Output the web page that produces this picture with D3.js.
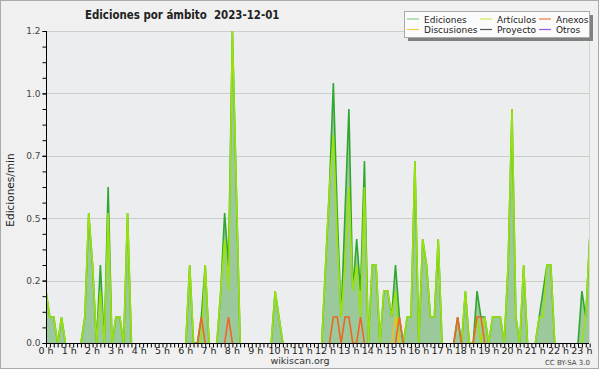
<!DOCTYPE html>
<html>
<head>
<meta charset="utf-8">
<script src="https://cdn.jsdelivr.net/npm/d3@7"></script>
<style>
  body { margin: 0; background: #fff; }
  text { font-family: "DejaVu Sans", sans-serif; }
</style>
</head>
<body>
<div id="chart"></div>
<script>
var svgWidth = 600;
var svgHeight = 370;

// 10-minute bins, 00:00 .. 23:20 (edits per minute)
var ediciones = [
  0.2, 0.1, 0.1, 0, 0.1, 0,
  0, 0, 0, 0, 0.1, 0.5,
  0.3, 0, 0.3, 0, 0.6, 0,
  0.1, 0.1, 0, 0.5, 0, 0,
  0, 0, 0, 0, 0, 0,
  0, 0, 0, 0, 0, 0,
  0, 0.3, 0, 0, 0.1, 0.3,
  0, 0, 0, 0.2, 0.5, 0.3,
  1.2, 0.6, 0, 0, 0, 0,
  0, 0, 0, 0, 0, 0.2,
  0.1, 0, 0, 0, 0, 0,
  0, 0, 0, 0, 0, 0,
  0.3, 0.6, 1.0, 0.5, 0.1, 0.5,
  0.9, 0.2, 0.4, 0.2, 0.7, 0,
  0.3, 0.3, 0, 0.2, 0.2, 0.1,
  0.3, 0.1, 0, 0.1, 0.1, 0.7,
  0, 0.4, 0.3, 0.1, 0.1, 0.4,
  0, 0, 0, 0, 0.1, 0,
  0.2, 0, 0, 0.2, 0.1, 0.1,
  0, 0.1, 0.1, 0.1, 0, 0.3,
  0.9, 0.1, 0, 0.3, 0, 0,
  0, 0.1, 0.2, 0.3, 0.3, 0,
  0, 0, 0, 0, 0, 0,
  0.2, 0.1, 0.4
];

var articulos = [
  0.2, 0.1, 0.1, 0, 0.1, 0,
  0, 0, 0, 0, 0.1, 0.5,
  0.3, 0, 0.2, 0, 0.5, 0,
  0.1, 0.1, 0, 0.5, 0, 0,
  0, 0, 0, 0, 0, 0,
  0, 0, 0, 0, 0, 0,
  0, 0.3, 0, 0, 0, 0.3,
  0, 0, 0, 0.2, 0.4, 0.2,
  1.2, 0.6, 0, 0, 0, 0,
  0, 0, 0, 0, 0, 0.2,
  0.1, 0, 0, 0, 0, 0,
  0, 0, 0, 0, 0, 0,
  0.3, 0.6, 0.8, 0.4, 0.1, 0.3,
  0.6, 0.2, 0.3, 0.1, 0.6, 0,
  0.3, 0.3, 0, 0.2, 0.2, 0.1,
  0.2, 0, 0, 0.1, 0.1, 0.7,
  0, 0.4, 0.3, 0.1, 0.1, 0.4,
  0, 0, 0, 0, 0, 0,
  0.2, 0, 0, 0.1, 0, 0.1,
  0, 0.1, 0.1, 0.1, 0, 0.3,
  0.9, 0.1, 0, 0.3, 0, 0,
  0, 0.1, 0.1, 0.3, 0.3, 0,
  0, 0, 0, 0, 0, 0,
  0, 0.1, 0.4
];

// sparse series: bin index -> value
var anexos = {40: 0.1, 47: 0.1, 74: 0.1, 75: 0.1, 77: 0.1, 78: 0.1, 81: 0.1, 91: 0.1, 106: 0.1, 111: 0.1, 112: 0.1};
var discusiones = {90: 0.1};
var proyecto = {};
var otros = {};

var yTicks = [0, 0.24, 0.48, 0.72, 0.96, 1.2];
var hourLabels = d3.range(0, 24).map(h => h + " h");

var legendItems = [
  {name: "Ediciones", color: "#8ccf8c"},
  {name: "Artículos", color: "#ccee55"},
  {name: "Anexos", color: "#ee7744"},
  {name: "Discusiones", color: "#f2cc44"},
  {name: "Proyecto", color: "#555555"},
  {name: "Otros", color: "#9955ee"}
];

var plot = {left: 46, right: 589, top: 31, bottom: 343};

function toSeries(obj) {
  return ediciones.map((d, i) => obj[i] || 0);
}

var svg = d3.select("#chart")
  .append("svg")
  .attr("width", svgWidth)
  .attr("height", svgHeight);

svg.append("rect")
  .attr("x", 0.5).attr("y", 0.5)
  .attr("width", 598).attr("height", 368)
  .attr("fill", "#f0f0f0")
  .attr("stroke", "#aaaaaa");

svg.append("rect")
  .attr("x", plot.left).attr("y", plot.top)
  .attr("width", plot.right - plot.left).attr("height", plot.bottom - plot.top)
  .attr("fill", "#ecedef");

// scales: minutes since midnight -> x
var xScale = d3.scaleLinear()
  .domain([0, 1440])
  .range([plot.left, plot.left + 1440 * 0.38833]);

var yScale = d3.scaleLinear()
  .domain([0, 1.2])
  .range([plot.bottom, plot.top]);

// gridlines
svg.append("g")
  .selectAll("line")
  .data(yTicks.slice(1))
  .join("line")
  .attr("x1", plot.left).attr("x2", plot.right)
  .attr("y1", d => Math.round(yScale(d)) + 0.5)
  .attr("y2", d => Math.round(yScale(d)) + 0.5)
  .attr("stroke", "#cccccc");

svg.append("line")
  .attr("x1", plot.right + 0.5).attr("x2", plot.right + 0.5)
  .attr("y1", plot.top).attr("y2", plot.bottom)
  .attr("stroke", "#d4d4d4");

svg.append("clipPath").attr("id", "clip")
  .append("rect")
  .attr("x", plot.left).attr("y", plot.top - 2)
  .attr("width", plot.right - plot.left).attr("height", plot.bottom - plot.top + 2);

var g = svg.append("g").attr("clip-path", "url(#clip)");

var area = d3.area()
  .x((d, i) => xScale(i * 10))
  .y0(yScale(0))
  .y1(d => yScale(d));

// only draw around non-zero stretches so flat zero runs stay hidden
var line = d3.line()
  .defined((d, i, arr) => d > 0 || arr[i - 1] > 0 || arr[i + 1] > 0)
  .x((d, i) => xScale(i * 10))
  .y(d => yScale(d));

g.append("path")
  .datum(ediciones)
  .attr("d", area)
  .attr("fill", "#9cc99c");

var lines = [
  {values: toSeries(otros), color: "#9955ee"},
  {values: toSeries(proyecto), color: "#555555"},
  {values: ediciones, color: "#30a830"},
  {values: articulos, color: "#9be20a"},
  {values: toSeries(discusiones), color: "#f0c020"},
  {values: toSeries(anexos), color: "#ee6622"}
];

lines.forEach(function(s) {
  g.append("path")
    .datum(s.values)
    .attr("d", line)
    .attr("fill", "none")
    .attr("stroke", s.color)
    .attr("stroke-width", 1.6);
});

// Y axis
var leftAxis = d3.axisLeft(yScale)
  .tickValues(yTicks)
  .tickFormat(d3.format(".1f"))
  .tickSize(4)
  .tickPadding(2);

var yAxisG = svg.append("g")
  .attr("transform", `translate(${plot.left + 0.5}, 0)`)
  .call(leftAxis);

svg.append("g")
  .attr("transform", `translate(${plot.left + 0.5}, 0)`)
  .call(d3.axisLeft(yScale).tickValues(d3.range(0, 1.2001, 0.06)).tickSize(4).tickFormat(""));

// X axis
var bottomAxis = d3.axisBottom(xScale)
  .tickValues(d3.range(0, 1401, 10))
  .tickSize(4)
  .tickFormat("");

svg.append("g")
  .attr("transform", `translate(0, ${plot.bottom + 0.5})`)
  .call(bottomAxis);

svg.selectAll(".domain").remove();
svg.append("line")
  .attr("x1", plot.left + 0.5).attr("x2", plot.left + 0.5)
  .attr("y1", plot.top).attr("y2", plot.bottom + 1)
  .attr("stroke", "#000");
svg.append("line")
  .attr("x1", plot.left).attr("x2", plot.right)
  .attr("y1", plot.bottom + 0.5).attr("y2", plot.bottom + 0.5)
  .attr("stroke", "#000");

svg.selectAll(".tick line").attr("stroke", "#000");
yAxisG.selectAll("text")
  .attr("font-size", 9)
  .attr("fill", "#444");

svg.append("g")
  .selectAll("text")
  .data(hourLabels)
  .join("text")
  .attr("x", (d, i) => xScale(i * 60))
  .attr("y", 354)
  .attr("text-anchor", "middle")
  .attr("font-size", 9.5)
  .attr("fill", "#222")
  .text(d => d);

// title and labels
svg.append("text")
  .attr("x", 85).attr("y", 18.5)
  .attr("font-size", 11.4)
  .attr("font-weight", "bold")
  .attr("fill", "#222")
  .style("font-family", "'DejaVu Sans Condensed', 'DejaVu Sans', sans-serif")
  .style("white-space", "pre")
  .text("Ediciones por ámbito  2023-12-01");

svg.append("text")
  .attr("transform", "translate(14, 190) rotate(-90)")
  .attr("text-anchor", "middle")
  .attr("font-size", 10.5)
  .attr("fill", "#222")
  .text("Ediciones/min");

svg.append("text")
  .attr("x", 300).attr("y", 364)
  .attr("text-anchor", "middle")
  .attr("font-size", 9.5)
  .attr("fill", "#333")
  .text("wikiscan.org");

svg.append("text")
  .attr("x", 590).attr("y", 365)
  .attr("text-anchor", "end")
  .attr("font-size", 7)
  .attr("fill", "#444")
  .text("CC BY-SA 3.0");

// legend
svg.append("rect")
  .attr("x", 408).attr("y", 15)
  .attr("width", 185).attr("height", 26)
  .attr("fill", "#808080");
svg.append("rect")
  .attr("x", 404.5).attr("y", 11.5)
  .attr("width", 185).attr("height", 26)
  .attr("fill", "#fbfbfb")
  .attr("stroke", "#aaaaaa");

var colX = [407, 480, 539];
var rowY = [19, 29.5];
var legend = svg.append("g")
  .selectAll("g")
  .data(legendItems)
  .join("g")
  .attr("transform", (d, i) => `translate(${colX[i % 3]}, ${rowY[Math.floor(i / 3)]})`);

legend.append("line")
  .attr("x1", 0).attr("x2", 12)
  .attr("stroke", d => d.color)
  .attr("stroke-width", 1.2);

legend.append("text")
  .attr("x", 17).attr("y", 3.5)
  .attr("font-size", 9)
  .attr("fill", "#222")
  .text(d => d.name);
</script>
</body>
</html>
